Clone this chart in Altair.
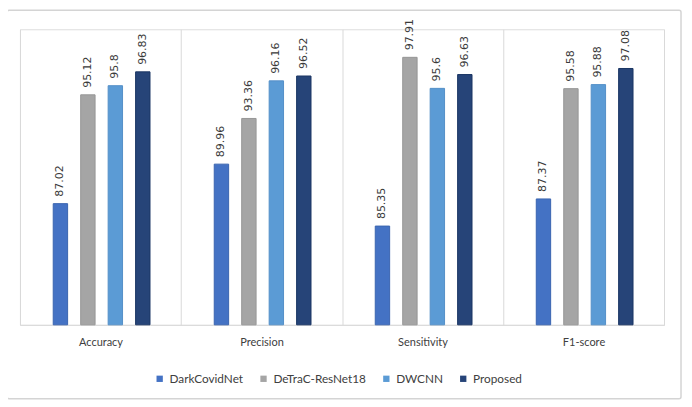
import altair as alt
import pandas as pd

metrics = ["Accuracy", "Precision", "Sensitivity", "F1-score"]
models = ["DarkCovidNet", "DeTraC-ResNet18", "DWCNN", "Proposed"]
darkcovidnet = [87.02, 89.96, 85.35, 87.37]
detrac = [95.12, 93.36, 97.91, 95.58]
dwcnn = [95.8, 96.16, 95.6, 95.88]
proposed = [96.83, 96.52, 96.63, 97.08]
colors = ["#4472C4", "#A5A5A5", "#5B9BD5", "#264478"]
strokes = ["#3A64B0", "#979797", "#5490C8", "#1A3563"]

rows = []
for m, vals in zip(models, [darkcovidnet, detrac, dwcnn, proposed]):
    for metric, v in zip(metrics, vals):
        rows.append({"metric": metric, "model": m, "value": v, "label": f"{v:g}"})
df = pd.DataFrame(rows)

x = alt.X("metric:N", sort=metrics, title=None,
          scale=alt.Scale(paddingInner=0, paddingOuter=0),
          axis=alt.Axis(grid=True, tickBand="extent", ticks=False, domain=True,
                        domainColor="#d9d9d9", gridColor="#d9d9d9", labelAngle=0,
                        labelFont="Lato", labelFontSize=11, labelColor="#404040",
                        labelPadding=12))
xo = alt.XOffset("model:N", sort=models,
                 scale=alt.Scale(range=[33.3, 130.2], paddingInner=0.476, paddingOuter=0))
y = alt.Y("value:Q", axis=None,
          scale=alt.Scale(domain=[78, 100], zero=False, nice=False, clamp=True))

base = alt.Chart(df)

bars = base.mark_bar(strokeWidth=1).encode(
    x=x, xOffset=xo, y=y,
    color=alt.Color("model:N", sort=models, title=None,
                    scale=alt.Scale(domain=models, range=colors),
                    legend=alt.Legend(orient="none", direction="horizontal",
                                      legendX=134, legendY=344,
                                      symbolType="square", symbolSize=40,
                                      symbolStrokeWidth=0,
                                      labelFont="Lato", labelFontSize=11.8,
                                      labelColor="#404040", columnPadding=14,
                                      labelOffset=4)),
    stroke=alt.Stroke("model:N", sort=models,
                      scale=alt.Scale(domain=models, range=strokes), legend=None),
)

labels = base.mark_text(angle=270, align="left", baseline="middle", dx=7,
                        font="DejaVu Sans", fontSize=11, color="#3a3a3a").encode(
    x=x, xOffset=xo, y=y, text="label:N")

frame = alt.Chart(alt.Data(values=[{"a": 1}])).mark_rect(
    fill=None, stroke="#d4d4d4", strokeWidth=1.5, cornerRadius=2).encode(
    x=alt.value(-13), x2=alt.value(662), y=alt.value(-19), y2=alt.value(370))

chart = alt.layer(frame, bars, labels).properties(
    width=645, height=296,
    autosize=alt.AutoSizeParams(type="none"),
    padding={"left": 12, "top": 21, "right": 20, "bottom": 80},
).configure_view(stroke=None).configure(background="white")

chart.save("out.html", embed_options={"renderer": "svg", "actions": False})
